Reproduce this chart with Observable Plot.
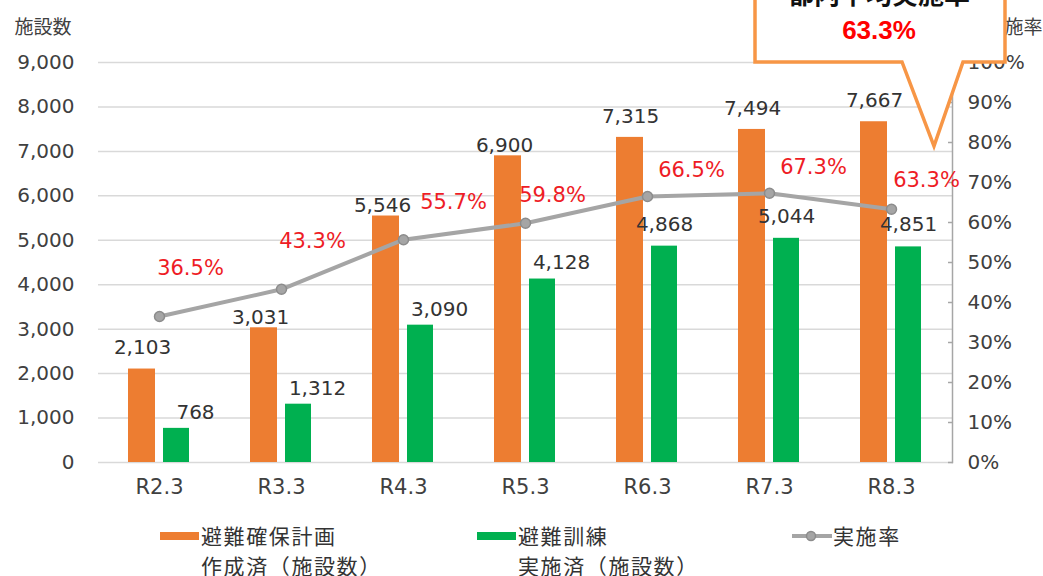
<!DOCTYPE html>
<html><head><meta charset="utf-8">
<script src="https://cdn.jsdelivr.net/npm/d3@7"></script>
<script src="https://cdn.jsdelivr.net/npm/@observablehq/plot@0.6"></script>
<style>
body{margin:0;background:#fff;font-family:"DejaVu Sans","Noto Sans CJK JP",sans-serif;}
#wrap{position:relative;width:1043px;height:576px;overflow:hidden;background:#fff}
#chart{position:absolute;left:0;top:0}
.lg{position:absolute;color:#333;font-family:"Noto Sans CJK JP",sans-serif;font-size:21px;line-height:30px;white-space:nowrap;letter-spacing:1.6px}
.sw{position:absolute;height:8px;width:39px}
</style></head>
<body><div id="wrap"><div id="chart"></div>
<div class="sw" style="left:160px;top:532px;background:#ed7d31"></div>
<div class="lg" style="left:201px;top:520px">避難確保計画<br>作成済（施設数）</div>
<div class="sw" style="left:477px;top:532px;background:#00b050"></div>
<div class="lg" style="left:518px;top:520px">避難訓練<br>実施済（施設数）</div>
<svg style="position:absolute;left:790px;top:527px" width="44" height="18"><line x1="2" y1="9" x2="42" y2="9" stroke="#a5a5a5" stroke-width="4"/><circle cx="21" cy="9" r="4.5" fill="#a5a5a5" stroke="#8c8c8c" stroke-width="1.5"/></svg>
<div class="lg" style="left:833px;top:520px">実施率</div>
</div>
<script>
const categories = ["R2.3","R3.3","R4.3","R5.3","R6.3","R7.3","R8.3"];
const planCounts = [2103,3031,5546,6900,7315,7494,7667];
const drillCounts = [768,1312,3090,4128,4868,5044,4851];
const rates = [36.5,43.3,55.7,59.8,66.5,67.3,63.3];
const countTicks = [0,1000,2000,3000,4000,5000,6000,7000,8000,9000];
const rateTicks = [0,10,20,30,40,50,60,70,80,90,100];
const averageRate = 63.3;
const calloutTitle = "都内平均実施率";

const RATE_SCALE = 9000 / 100; // 100% on right axis ↔ 9,000 on left axis
const rows = categories.map((c, i) => ({i, cat: c, plan: planCounts[i], drill: drillCounts[i], rate: rates[i], rateY: rates[i] * RATE_SCALE}));
const fmt = d3.format(",");
const red = "#ee1c25";
const txt = "#333";
const FONT = '"DejaVu Sans","Noto Sans CJK JP",sans-serif';

// label helper: a text mark for a subset of rows with a given pixel offset
const lbl = (idx, y, text, dx, dy, fill, size = 20) =>
  Plot.text(rows.filter(d => idx.includes(d.i)), {x: "cat", y, text, dx, dy, fill, fontSize: size, fontFamily: FONT});
const planText = d => fmt(d.plan);
const drillText = d => fmt(d.drill);
const rateText = d => d.rate.toFixed(1) + "%";

const plot = Plot.plot({
  width: 1043, height: 502,
  marginLeft: 98, marginRight: 91, marginTop: 62, marginBottom: 40,
  style: {fontFamily: FONT, fontSize: "20px", color: "#404040", background: "#fff", overflow: "visible"},
  x: {domain: categories, padding: 0},
  y: {domain: [0, 9000]},
  marks: [
    Plot.ruleY(countTicks, {stroke: "#d9d9d9", strokeWidth: 1.5}),
    Plot.barY(rows, {x: "cat", y: "plan", fill: "#ed7d31", insetLeft: 30, insetRight: 65}),
    Plot.barY(rows, {x: "cat", y: "drill", fill: "#00b050", insetLeft: 65, insetRight: 31}),
    Plot.line(rows, {x: "cat", y: "rateY", stroke: "#a5a5a5", strokeWidth: 4}),
    Plot.dot(rows, {x: "cat", y: "rateY", r: 5, fill: "#a5a5a5", stroke: "#8c8c8c", strokeWidth: 1.5}),
    Plot.frame({anchor: "right", stroke: "#a6a6a6", strokeWidth: 1.5}),
    Plot.axisY(countTicks, {anchor: "left", tickSize: 0, tickPadding: 24, tickFormat: fmt, label: null, fill: "#404040", fontSize: 20}),
    Plot.axisY(rateTicks.map(p => p * RATE_SCALE), {anchor: "right", tickSize: 0, tickPadding: 15, tickFormat: d => Math.round(d / RATE_SCALE) + "%", label: null, fill: "#404040", fontSize: 20}),
    Plot.axisY(rateTicks.map(p => p * RATE_SCALE), {anchor: "right", tickSize: 5, dx: -5, text: null, label: null, stroke: "#a6a6a6", strokeWidth: 1.5}),
    Plot.axisX({tickSize: 0, tickPadding: 17, fontSize: 21, label: null, fill: "#404040"}),
    // value labels (orange bars)
    lbl([0, 4, 5, 6], "plan", planText, -17, -21, txt),
    lbl([1, 2, 3], "plan", planText, -21, -10, txt),
    // value labels (green bars)
    lbl([0, 1, 2, 3], "drill", drillText, 36, -16, txt),
    lbl([4, 5, 6], "drill", drillText, 17, -22, txt),
    // rate labels
    lbl([0, 1], "rateY", rateText, 31, -48, red, 21),
    lbl([2], "rateY", rateText, 50, -37, red, 21),
    lbl([3], "rateY", rateText, 27, -28, red, 21),
    lbl([4, 5], "rateY", rateText, 44, -26, red, 21),
    lbl([6], "rateY", rateText, 35, -29, red, 21),
    // axis titles
    Plot.text(["施設数"], {frameAnchor: "top-left", dx: -84, dy: -42, textAnchor: "start", fill: "#404040", fontSize: 19, fontFamily: "Noto Sans CJK JP"}),
    Plot.text(["実施率"], {frameAnchor: "top-right", dx: 33, dy: -42, textAnchor: "start", fill: "#404040", fontSize: 19, fontFamily: "Noto Sans CJK JP"})
  ]
});
document.getElementById("chart").appendChild(plot);

// callout annotation anchored to the scales
const xs = plot.scale("x"), ys = plot.scale("y");
const xLast = xs.apply(categories[categories.length - 1]) + xs.bandwidth; // right edge of last band
const tipX = xLast - 18, tipY = ys.apply(79 * RATE_SCALE);
const boxL = 755, boxR = 1005, boxB = ys.apply(9000), boxT = -40;
const svg = d3.select(plot);
const g = svg.append("g");
g.append("path")
  .attr("d", `M${boxL},${boxT}L${boxL},${boxB}L${tipX - 32},${boxB}L${tipX},${tipY}L${tipX + 29},${boxB}L${boxR},${boxB}L${boxR},${boxT}Z`)
  .attr("fill", "#fff").attr("stroke", "#f79646").attr("stroke-width", 3.5).attr("stroke-linejoin", "miter");
g.append("text").attr("x", (boxL + boxR) / 2 - 1).attr("y", 4).attr("text-anchor", "middle")
  .attr("font-family", "Noto Sans CJK JP").attr("font-weight", "bold").attr("font-size", 26).attr("fill", "#111").text(calloutTitle);
g.append("text").attr("x", (boxL + boxR) / 2 - 1).attr("y", 39).attr("text-anchor", "middle")
  .attr("font-family", "Liberation Sans, Arial").attr("font-weight", "bold").attr("font-size", 26).attr("fill", "#ff0000").text(averageRate.toFixed(1) + "%");
</script>
</body></html>
